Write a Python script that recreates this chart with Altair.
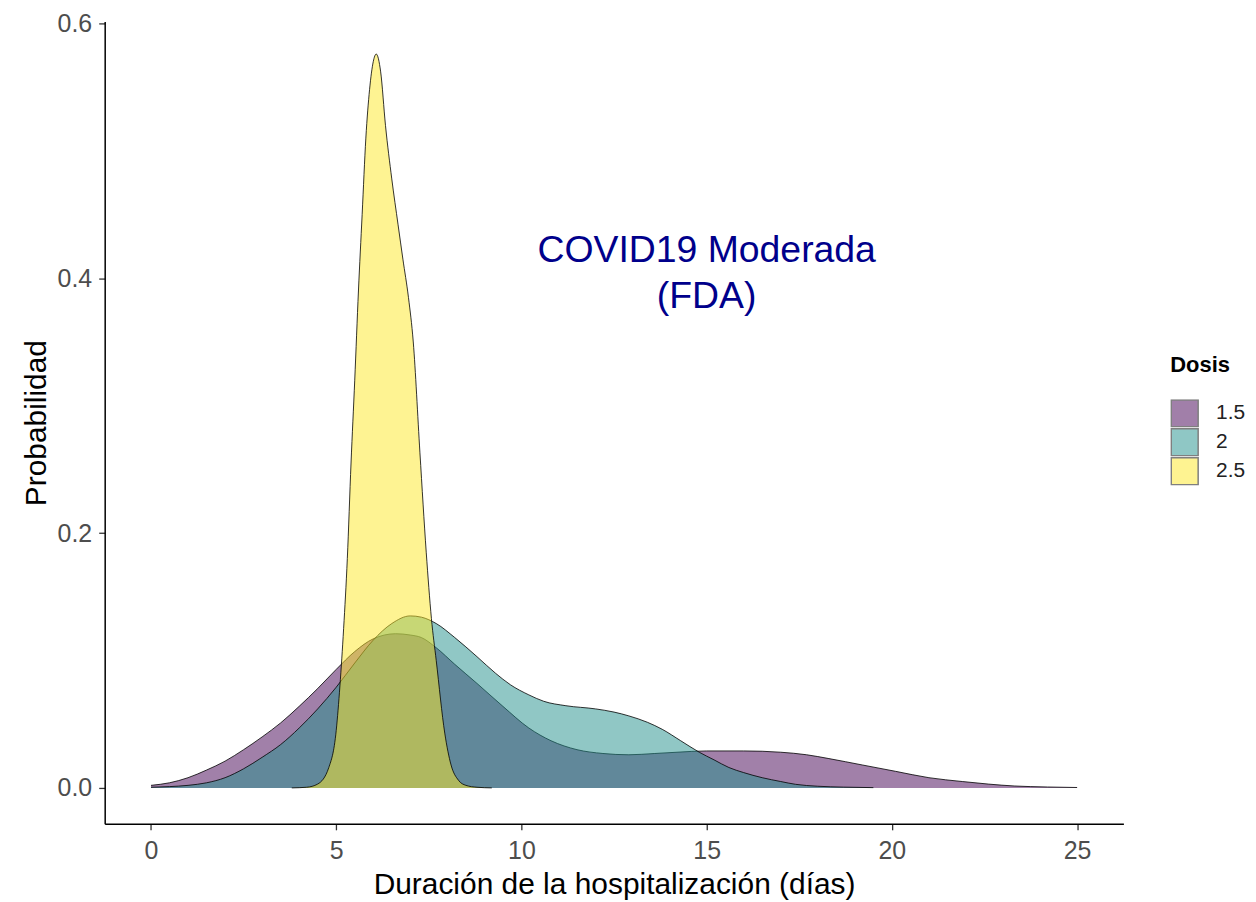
import altair as alt
import pandas as pd

# ---- data ----
doses = ["1.5", "2", "2.5"]
colors = ["#440154", "#21908C", "#FDE725"]

x_15 = [0, 0.5, 1.0, 1.5, 2.0, 2.5, 3.0, 3.5, 4.0, 4.5, 5.0, 5.5, 6.0, 6.6, 7.0, 7.3, 7.7,
        8.2, 8.8, 9.5, 10.2, 10.8, 11.5, 12.2, 12.9, 13.6, 14.2, 15.0, 16.0, 17.0, 17.7,
        18.3, 19.2, 20.1, 21.0, 21.9, 22.6, 23.3, 24.2, 25.0]
y_15 = [0.002, 0.004, 0.008, 0.014, 0.021, 0.030, 0.040, 0.051, 0.064, 0.078, 0.093, 0.107,
        0.117, 0.121, 0.120, 0.118, 0.110, 0.097, 0.082, 0.064, 0.047, 0.037, 0.030, 0.027,
        0.026, 0.027, 0.028, 0.029, 0.029, 0.028, 0.026, 0.023, 0.018, 0.013, 0.008, 0.005,
        0.003, 0.0015, 0.0007, 0.0003]

x_2 = [0, 0.5, 1.0, 1.5, 2.0, 2.5, 3.0, 3.5, 4.0, 4.5, 5.0, 5.5, 6.0, 6.5, 7.0, 7.3, 7.7,
       8.2, 8.8, 9.3, 9.7, 10.2, 10.6, 11.2, 12.0, 12.5, 12.9, 13.4, 13.8, 14.3, 14.8, 15.2,
       15.6, 16.0, 16.5, 17.0, 17.4, 18.0, 18.7, 19.5]
y_2 = [0.0005, 0.001, 0.002, 0.004, 0.008, 0.015, 0.024, 0.034, 0.047, 0.062, 0.079, 0.098,
       0.116, 0.129, 0.135, 0.134, 0.129, 0.118, 0.103, 0.090, 0.081, 0.073, 0.068, 0.0645,
       0.062, 0.0595, 0.0565, 0.0515, 0.046, 0.037, 0.028, 0.022, 0.016, 0.012, 0.008, 0.005,
       0.0028, 0.0013, 0.0006, 0.0002]

x_25 = [3.8, 4.2, 4.5, 4.8, 5.0, 5.1, 5.2, 5.3, 5.4, 5.5, 5.6, 5.7, 5.8, 5.9, 6.0, 6.08, 6.2,
        6.33, 6.5, 6.67, 6.8, 6.95, 7.08, 7.26, 7.43, 7.57, 7.7, 7.93, 8.1, 8.3, 8.5, 8.8, 9.2]
y_25 = [0.0, 0.0005, 0.003, 0.016, 0.045, 0.08, 0.125, 0.18, 0.255, 0.32, 0.39, 0.45, 0.51,
        0.548, 0.57, 0.576, 0.562, 0.52, 0.478, 0.442, 0.415, 0.385, 0.35, 0.263, 0.185,
        0.133, 0.10, 0.043, 0.018, 0.006, 0.002, 0.0005, 0.0]

x_ticks = [0, 5, 10, 15, 20, 25]
y_ticks = [0.0, 0.2, 0.4, 0.6]

ann_text = ["COVID19 Moderada", "(FDA)"]
ann_x = [15]
ann_y = [0.4]

# ---- build table ----
rows = []
for d, xs, ys in zip(doses, [x_15, x_2, x_25], [y_15, y_2, y_25]):
    for xv, yv in zip(xs, ys):
        rows.append({"Dosis": d, "x": xv, "y": yv, "base": 0.0})
df = pd.DataFrame(rows)

font = "Liberation Sans"

xscale = alt.Scale(domain=[-1.25, 26.25], nice=False, zero=False)
yscale = alt.Scale(domain=[-0.0282, 0.6016], nice=False, zero=False)

xaxis = alt.Axis(values=x_ticks, grid=False, domainColor="black", domainWidth=1.5,
                 tickColor="#333333", tickWidth=1.3, tickSize=6,
                 labelFont=font, labelFontSize=25, labelColor="#4D4D4D", labelPadding=9,
                 titleFont=font, titleFontSize=30, titleColor="black",
                 titleFontWeight="normal", titlePadding=6)
yaxis = alt.Axis(values=y_ticks, format=".1f", grid=False, domainColor="black", domainWidth=1.5,
                 tickColor="#333333", tickWidth=1.3, tickSize=6,
                 labelFont=font, labelFontSize=25, labelColor="#4D4D4D", labelPadding=7,
                 titleFont=font, titleFontSize=30, titleColor="black",
                 titleFontWeight="normal", titlePadding=6)

legend = alt.Legend(orient="none", legendX=1069, legendY=335, title="Dosis",
                    titleFont=font, titleFontSize=22, titleFontWeight="bold",
                    titleColor="black", titlePadding=22,
                    labelFont=font, labelFontSize=21, labelColor="#222222", labelOffset=17,
                    symbolType="square", symbolSize=729, symbolStrokeColor="black",
                    symbolStrokeWidth=1.5, symbolOpacity=0.5, rowPadding=0,
                    clipHeight=28.5)

layers = []
for d in doses:
    base = alt.Chart(df).transform_filter(alt.datum.Dosis == d)
    area = base.mark_area(fillOpacity=0.5, interpolate="monotone").encode(
        x=alt.X("x:Q", scale=xscale, axis=xaxis, title="Duración de la hospitalización (días)"),
        y=alt.Y("y:Q", scale=yscale, axis=yaxis, title="Probabilidad"),
        y2=alt.Y2("base:Q"),
        color=alt.Color("Dosis:N", scale=alt.Scale(domain=doses, range=colors), legend=legend),
    )
    line = base.mark_line(color="black", strokeWidth=0.8, interpolate="monotone").encode(
        x=alt.X("x:Q", scale=xscale),
        y=alt.Y("y:Q", scale=yscale),
    )
    layers += [area, line]

ann_df = pd.DataFrame({"x": ann_x, "y": ann_y})
text = alt.Chart(ann_df).mark_text(
    text=ann_text, font=font, fontSize=37.5, lineHeight=46, color="#00008B",
    align="center", baseline="middle", dy=-27
).encode(x=alt.X("x:Q", scale=xscale), y=alt.Y("y:Q", scale=yscale))

chart = alt.layer(*layers, text).properties(
    width=1022, height=805,
    autosize=alt.AutoSizeParams(type="none"),
    padding={"left": 97, "top": 12, "right": 125, "bottom": 85},
    background="white",
).configure_view(stroke=None)

chart.save("out.html", embed_options={"renderer": "svg", "actions": False})
